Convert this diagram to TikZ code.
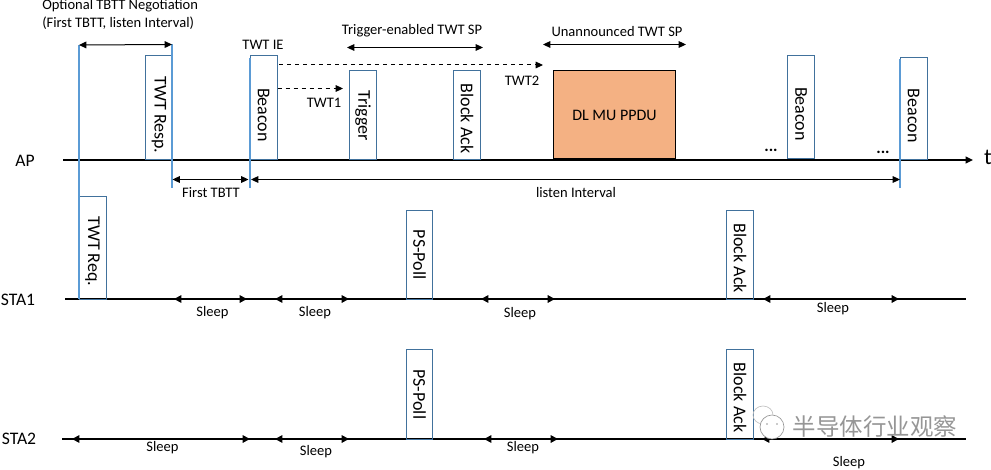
\documentclass[tikz,border=0pt]{standalone}
\usepackage{fontspec}
\setmainfont{Carlito}
\newfontfamily\cjk{Noto Sans CJK SC}
\usepackage{xcolor}
\usetikzlibrary{arrows.meta}
\definecolor{pktblue}{RGB}{65, 113, 156}
\definecolor{tickblue}{RGB}{91, 155, 213}
\definecolor{ppduorange}{RGB}{244, 177, 131}
\definecolor{markgray}{RGB}{150, 150, 150}
\tikzset{
    pkt/.style={draw=pktblue,line width=0.75pt,inner sep=0pt,outer sep=0pt,rotate=-90,anchor=south east,
        minimum height=20.25pt,font=\fontsize{13.5}{15}\selectfont},
    lbl/.style={inner sep=0pt,font=\fontsize{10.9}{13}\selectfont},
    sta/.style={inner sep=0pt,font=\fontsize{13.2}{15}\selectfont},
    baseline/.style={line width=1.6pt},
    tick/.style={tickblue,line width=1.4pt},
    span/.style={<->,line width=0.75pt},
    sleepspan/.style={<->,line width=1.6pt,>={Triangle[length=5.5pt,width=5.5pt]}},
    twtptr/.style={->,dashed,line width=0.75pt}
}
\begin{document}
\begin{tikzpicture}[x=0.75pt,y=-0.75pt,>={Triangle[length=5.5pt,width=5pt]}]
    \useasboundingbox (0,0) rectangle (991,470);

    % time lines
    \coordinate (apL) at (63,160);
    \coordinate (apR) at (973,160);
    \coordinate (staAL) at (65,299);
    \coordinate (staAR) at (966,299);
    \coordinate (staBL) at (62,439);
    \coordinate (staBR) at (966,439);
    \draw[baseline,->] (apL) -- (apR);
    \draw[baseline] (staAL) -- (staAR);
    \draw[baseline] (staBL) -- (staBR);

    \node[sta] (apname) at (25,160.5) {AP};
    \node[sta] (staAname) at (18,299.5) {STA1};
    \node[sta] (staBname) at (19,438.5) {STA2};
    \node[inner sep=0pt,font=\fontsize{17}{19}\selectfont] (tname) at (988,157) {t};

    % AP frames
    \node[pkt,minimum width=78pt] (twtresp) at (145.5,160) {\hspace*{10.5pt}TWT Resp.};
    \node[pkt,minimum width=78pt] (beaconA) at (250,160) {\hspace*{10.5pt}Beacon};
    \node[pkt,minimum width=66.75pt] (trigger) at (349.5,160) {Trigger};
    \node[pkt,minimum width=66.75pt] (blockackAP) at (453.5,160) {\hspace*{4.5pt}Block Ack};
    \node[draw=black,fill=ppduorange,line width=0.75pt,inner sep=0pt,outer sep=0pt,anchor=south west,
        minimum width=91.5pt,minimum height=66pt,font=\fontsize{12}{14}\selectfont] (ppdu) at (553.5,159) {DL MU PPDU};
    \node[pkt,minimum width=77.25pt] (beaconB) at (787.5,158.5) {\hspace*{10.5pt}Beacon};
    \node[pkt,minimum width=77pt] (beaconC) at (900,160) {\hspace*{10.5pt}Beacon};
    \node[lbl,font=\bfseries\fontsize{12.5}{13}\selectfont] (dotsA) at (771,150) {...};
    \node[lbl,font=\bfseries\fontsize{12.5}{13}\selectfont] (dotsB) at (883,152) {...};

    % STA frames
    \node[pkt,minimum width=77pt] (twtreq) at (79,299) {\hspace*{5.5pt}TWT Req.};
    \node[pkt,minimum width=66.4pt,minimum height=19.5pt] (pspollA) at (406.5,299) {PS-Poll};
    \node[pkt,minimum width=66.4pt] (blockackA) at (726.5,299) {\hspace*{5pt}Block Ack};
    \node[pkt,minimum width=67pt,minimum height=19.5pt] (pspollB) at (406.5,439) {PS-Poll};
    \node[pkt,minimum width=67pt] (blockackB) at (726.5,439) {\hspace*{5pt}Block Ack};

    % blue markers
    \coordinate (negL) at (79,45);
    \coordinate (negR) at (172,44.5);
    \coordinate (respB) at (172,188);
    \coordinate (beaconT) at (250,58);
    \coordinate (beaconE) at (250,188);
    \coordinate (lastT) at (900,59);
    \coordinate (lastE) at (900,188);
    \draw[tick] (negL) -- (twtreq.south east);
    \draw[tick] (negR) -- (respB);
    \draw[tick] (beaconT) -- (beaconE);
    \draw[tick] (lastT) -- (lastE);

    % spans
    \coordinate (trigL) at (347,47.5);
    \coordinate (trigR) at (483,47.5);
    \coordinate (unL) at (543,44.5);
    \coordinate (unR) at (686,44.5);
    \coordinate (firstL) at (172.5,179.5);
    \coordinate (firstR) at (248.5,179.5);
    \coordinate (listenL) at (251,179.5);
    \coordinate (listenR) at (900,179.5);
    \draw[span] (negL) -- (negR);
    \draw[span] (trigL) -- (trigR);
    \draw[span] (unL) -- (unR);
    \draw[span] (firstL) -- (firstR);
    \draw[span] (listenL) -- (listenR);

    % TWT pointers
    \coordinate (ptrAL) at (277.5,88.5);
    \coordinate (ptrAR) at (343,88.5);
    \coordinate (ptrBL) at (279,65);
    \coordinate (ptrBR) at (543,65);
    \draw[twtptr] (ptrAL) -- (ptrAR);
    \draw[twtptr] (ptrBL) -- (ptrBR);

    % sleep periods
    \foreach \nm/\ya/\xa/\xb in {sa/299/174/247, sb/299/275/349, sc/299/481/555, sd/299/763/899,
                                 se/439/72/250, sf/439/275/349, sg/439/484/558, sh/439/762/899} {
        \coordinate (\nm L) at (\xa,\ya);
        \coordinate (\nm R) at (\xb,\ya);
        \draw[sleepspan] (\nm L) -- (\nm R);
    }

    % labels
    \node[lbl,anchor=west,align=left] (neglabel) at (42,14.5) {Optional TBTT Negotiation\\(First TBTT, listen Interval)};
    \node[lbl] (ielabel) at (263,44.5) {TWT IE};
    \node[lbl] (triglabel) at (412,30.5) {Trigger-enabled TWT SP};
    \node[lbl] (unlabel) at (617,32) {Unannounced TWT SP};
    \node[lbl] (twtAlabel) at (324,103) {TWT1};
    \node[lbl] (twtBlabel) at (522,80.5) {TWT2};
    \node[lbl] (firstlabel) at (211,193) {First TBTT};
    \node[lbl] (listenlabel) at (576,193) {listen Interval};
    \node[lbl] (sleepA) at (212.5,312.5) {Sleep};
    \node[lbl] (sleepB) at (315,312.5) {Sleep};
    \node[lbl] (sleepC) at (520,313.5) {Sleep};
    \node[lbl] (sleepD) at (833,308.5) {Sleep};
    \node[lbl] (sleepE) at (162.5,448) {Sleep};
    \node[lbl] (sleepF) at (316,452) {Sleep};
    \node[lbl] (sleepG) at (523,448) {Sleep};
    \node[lbl] (sleepH) at (849,463) {Sleep};

    % mark in the corner
    \draw[markgray!60,line width=0.5pt] (763,415) ellipse (10 and 9);
    \draw[markgray,fill=white,line width=0.5pt] (772,427) circle (12);
    \fill[markgray] (767,424) circle (0.9) (777,424) circle (0.9);
    \node[inner sep=0pt,text=markgray,font=\cjk\fontsize{17.6}{20}\selectfont] (marktext) at (875,427) {半导体行业观察};
\end{tikzpicture}
\end{document}
